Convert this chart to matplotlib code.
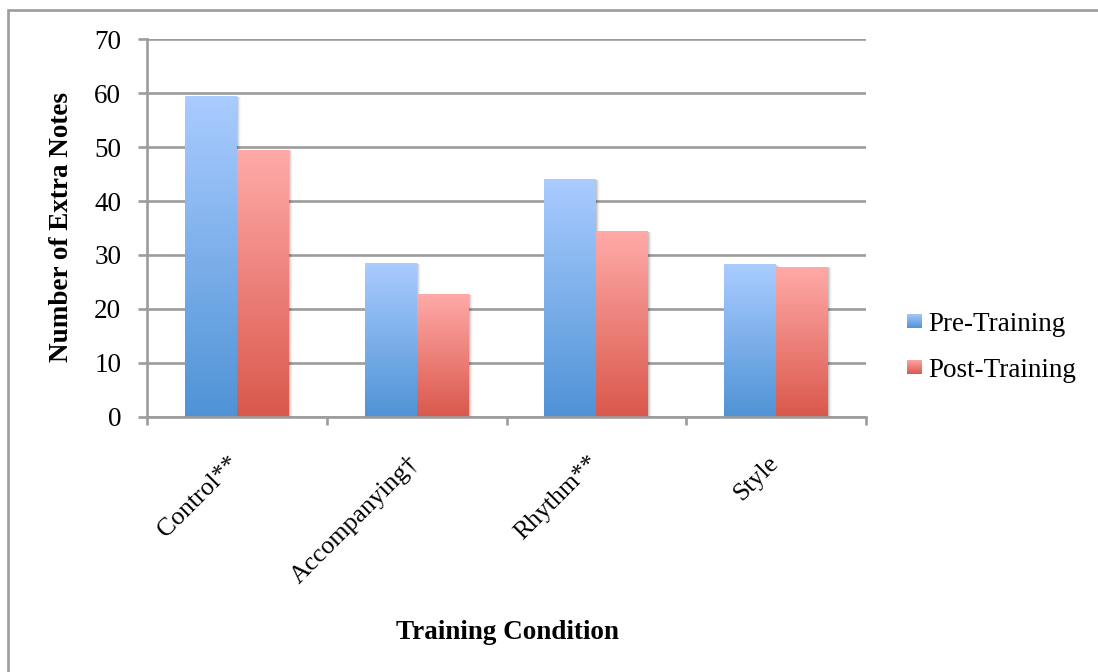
import numpy as np
import matplotlib
matplotlib.use("Agg")
import matplotlib.pyplot as plt
from matplotlib.patches import Rectangle
from matplotlib.transforms import ScaledTranslation
from matplotlib.colors import LinearSegmentedColormap

# Data
categories = ["Control**", "Accompanying†", "Rhythm**", "Style"]
pre_training = [59.5, 28.5, 44.0, 28.2]
post_training = [49.5, 22.8, 34.4, 27.8]
series_names = ["Pre-Training", "Post-Training"]
y_ticks = [0, 10, 20, 30, 40, 50, 60, 70]

W, H = 1098, 672
fig = plt.figure(figsize=(W / 100, H / 100), dpi=100)
ax = fig.add_axes([147 / W, 1 - 416.7 / H, (866 - 147) / W, (416.7 - 39.3) / H])

grid_color = "#9C9C9C"
line_w = 1.9
serif = "Liberation Serif"
blue = ("#AACCFF", "#4F93D6")   # top, bottom of the gradient
red = ("#FFAAA8", "#DA584C")
series_colors = [blue, red]
bar_w = 0.289


def gradient_cmap(colors):
    return LinearSegmentedColormap.from_list("grad", [colors[1], colors[0]])


grad = np.linspace(0, 1, 256).reshape(-1, 1)


def gradient_bar(x0, width, height, colors):
    # soft drop shadow to the right of the bar
    for k, a in ((1, 0.10), (2, 0.07), (3, 0.045), (4, 0.025)):
        off = ScaledTranslation(k / 100, -k / 300, fig.dpi_scale_trans)
        ax.add_patch(Rectangle((x0, 0), width, height, facecolor="black",
                               edgecolor="none", alpha=a, zorder=2.5,
                               transform=ax.transData + off))
    ax.imshow(grad, extent=[x0, x0 + width, 0, height], origin="lower",
              cmap=gradient_cmap(colors), aspect="auto", zorder=3,
              interpolation="bilinear")


x = np.arange(len(categories))
for i in range(len(categories)):
    gradient_bar(x[i] - bar_w, bar_w, pre_training[i], blue)
    gradient_bar(x[i], bar_w, post_training[i], red)

ax.set_xlim(-0.5, len(categories) - 0.5)
ax.set_ylim(0, 70)
ax.set_axisbelow(True)

# Axes styling
for s in ("top", "right"):
    ax.spines[s].set_visible(False)
for s in ("left", "bottom"):
    ax.spines[s].set_color(grid_color)
    ax.spines[s].set_linewidth(line_w)
    ax.spines[s].set_zorder(4)

ax.set_yticks(y_ticks)
ax.set_yticklabels([str(v) for v in y_ticks], fontfamily=serif, fontsize=19.5)
ax.yaxis.grid(True, color=grid_color, linewidth=line_w)
ax.tick_params(axis="y", length=6.5, width=line_w, color=grid_color, pad=12)

ax.set_xticks(x)
ax.set_xticks(np.arange(-0.5, len(categories)), minor=True)
ax.tick_params(axis="x", which="major", length=0, pad=31)
ax.tick_params(axis="x", which="minor", length=6, width=line_w, color=grid_color)
ax.set_xticklabels(categories, fontfamily=serif, fontsize=18.5, rotation=45,
                   ha="right", va="center", rotation_mode="anchor")
for lab in ax.get_xticklabels():
    lab.set_transform(lab.get_transform() + ScaledTranslation(-0.01, 0, fig.dpi_scale_trans))

# Axis titles
fig.text(68.3 / W, 1 - 226.5 / H, "Number of Extra Notes", rotation=90,
         rotation_mode="anchor", ha="center", va="baseline",
         fontfamily=serif, fontweight="bold", fontsize=19.5)
fig.text(507 / W, 1 - 639.3 / H, "Training Condition", ha="center",
         va="baseline", fontfamily=serif, fontweight="bold", fontsize=19.5)

# Legend
legend_rows = [(314, 330.7), (360, 377.3)]
for name, colors, (sq_top, base) in zip(series_names, series_colors, legend_rows):
    sq = fig.add_axes([907 / W, 1 - (sq_top + 14.5) / H, 15 / W, 14.5 / H])
    sq.imshow(grad, origin="lower", cmap=gradient_cmap(colors), aspect="auto",
              interpolation="bilinear")
    sq.set_axis_off()
    fig.text(928 / W, 1 - base / H, name, ha="left", va="baseline",
             fontfamily=serif, fontsize=19.5)

# Chart frame
fig.add_artist(Rectangle((8 / W, -0.2), 1.5, 1.2 - 10 / H, transform=fig.transFigure,
                         fill=False, edgecolor=grid_color, linewidth=line_w))

fig.savefig("out.png", dpi=100, facecolor="white")
